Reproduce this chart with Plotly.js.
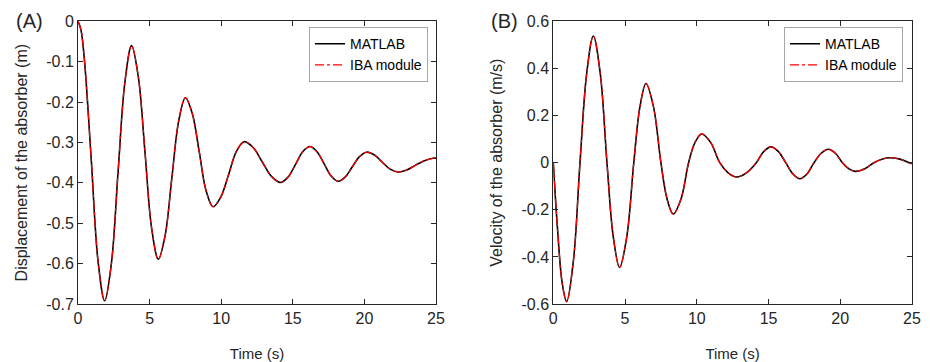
<!DOCTYPE html>
<html>
<head>
<meta charset="utf-8">
<script src="https://cdn.plot.ly/plotly-3.0.1.min.js"></script>
<style>html,body{margin:0;padding:0;background:#fff;}#chart{width:930px;height:362px;}</style>
</head>
<body>
<div id="chart"></div>
<script>
// Displacement of the absorber (panel A)
const dispTime = [0, 0.2, 0.45, 0.93, 1.40, 1.86, 2.33, 2.80, 3.27, 3.74, 4.21, 4.68, 5.14, 5.61, 6.08, 6.55, 7.03, 7.50, 7.98, 8.47, 8.95, 9.43, 9.97, 10.52, 11.06, 11.6, 12.24, 12.88, 13.51, 14.15, 14.66, 15.18, 15.69, 16.2, 16.69, 17.19, 17.68, 18.17, 18.67, 19.16, 19.66, 20.15, 20.70, 21.25, 21.80, 22.35, 22.96, 23.58, 24.19, 24.8, 25];
const dispMatlab = [0, -0.020, -0.096, -0.345, -0.594, -0.692, -0.600, -0.372, -0.152, -0.060, -0.137, -0.325, -0.512, -0.589, -0.531, -0.389, -0.247, -0.189, -0.228, -0.324, -0.420, -0.459, -0.435, -0.379, -0.322, -0.298, -0.313, -0.349, -0.384, -0.399, -0.386, -0.355, -0.323, -0.310, -0.323, -0.353, -0.383, -0.396, -0.385, -0.360, -0.335, -0.324, -0.331, -0.349, -0.366, -0.373, -0.368, -0.356, -0.345, -0.339, -0.339];
const dispIBA = dispMatlab.slice();

// Velocity of the absorber (panel B)
const velTime = [0, 0.31, 0.62, 0.93, 1.40, 1.86, 2.33, 2.79, 3.27, 3.74, 4.18, 4.62, 5.12, 5.61, 6.04, 6.46, 6.98, 7.50, 7.93, 8.36, 8.90, 9.43, 9.88, 10.34, 10.97, 11.6, 12.19, 12.78, 13.46, 14.15, 14.66, 15.17, 15.69, 16.2, 16.70, 17.19, 17.68, 18.17, 18.67, 19.17, 19.66, 20.15, 20.61, 21.07, 21.71, 22.35, 22.90, 23.50, 24.15, 24.8, 25];
const velMatlab = [0, -0.295, -0.511, -0.590, -0.417, 0, 0.380, 0.538, 0.380, 0, -0.315, -0.445, -0.315, 0, 0.238, 0.336, 0.238, 0, -0.154, -0.218, -0.154, 0, 0.086, 0.122, 0.086, 0, -0.043, -0.061, -0.043, 0, 0.047, 0.067, 0.047, 0, -0.048, -0.068, -0.048, 0, 0.040, 0.057, 0.040, 0, -0.026, -0.037, -0.026, 0, 0.015, 0.021, 0.015, 0, -0.003];
const velIBA = velMatlab.slice();

const xTicks = [0, 5, 10, 15, 20, 25];
const dispTickVals = [0, -0.1, -0.2, -0.3, -0.4, -0.5, -0.6, -0.7];
const dispTickText = ["0", "-0.1", "-0.2", "-0.3", "-0.4", "-0.5", "-0.6", "-0.7"];
const velTickVals = [0.6, 0.4, 0.2, 0, -0.2, -0.4, -0.6];
const velTickText = ["0.6", "0.4", "0.2", "0", "-0.2", "-0.4", "-0.6"];
const seriesNames = ["MATLAB", "IBA module"];

const FONT = "Liberation Sans, Arial, sans-serif";
const INK = "#262626";

const traces = [
  {x: dispTime, y: dispMatlab, name: seriesNames[0], mode: "lines", line: {color: "#000000", width: 1.6, shape: "spline"}, xaxis: "x", yaxis: "y", legend: "legend"},
  {x: dispTime, y: dispIBA, name: seriesNames[1], mode: "lines", line: {color: "#ff0000", width: 1.2, dash: "dashdot", shape: "spline"}, xaxis: "x", yaxis: "y", legend: "legend"},
  {x: velTime, y: velMatlab, name: seriesNames[0], mode: "lines", line: {color: "#000000", width: 1.6, shape: "spline"}, xaxis: "x2", yaxis: "y2", legend: "legend2"},
  {x: velTime, y: velIBA, name: seriesNames[1], mode: "lines", line: {color: "#ff0000", width: 1.2, dash: "dashdot", shape: "spline"}, xaxis: "x2", yaxis: "y2", legend: "legend2"}
];

function xAxis(domain, anchor) {
  return {
    domain: domain, anchor: anchor, range: [0, 25], tickvals: xTicks, ticktext: xTicks.map(String),
    ticks: "inside", ticklen: 5, tickcolor: INK, showline: true, linecolor: INK, linewidth: 1, mirror: "ticks",
    showgrid: false, zeroline: false, tickfont: {family: FONT, size: 16, color: INK},
    title: {text: "Time (s)", font: {family: FONT, size: 15, color: INK}, standoff: 22}, automargin: false
  };
}
function yAxis(range, vals, text, title, anchor) {
  return {
    domain: [0.1602, 0.941], anchor: anchor, range: range, tickvals: vals, ticktext: text,
    ticks: "inside", ticklen: 5, tickcolor: INK, showline: true, linecolor: INK, linewidth: 1, mirror: "ticks",
    showgrid: false, zeroline: false, tickfont: {family: FONT, size: 16, color: INK},
    title: {text: title, font: {family: FONT, size: 16, color: INK}, standoff: 14}, automargin: false
  };
}
const legendStyle = (x) => ({
  x: x, xanchor: "right", y: 0.925, yanchor: "top", bgcolor: "#ffffff", bordercolor: "#a6a6a6", borderwidth: 1,
  font: {family: FONT, size: 14, color: "#000000"}, itemwidth: 30, tracegroupgap: 0
});

const layout = {
  width: 930, height: 362, margin: {l: 0, r: 0, t: 0, b: 0}, paper_bgcolor: "#ffffff", plot_bgcolor: "#ffffff",
  showlegend: true,
  xaxis: xAxis([78 / 930, 436 / 930], "y"),
  yaxis: yAxis([-0.7, 0], dispTickVals, dispTickText, "Displacement of the absorber (m)", "x"),
  xaxis2: xAxis([553.3 / 930, 912 / 930], "y2"),
  yaxis2: yAxis([-0.6, 0.6], velTickVals, velTickText, "Velocity of the absorber (m/s)", "x2"),
  legend: legendStyle(428 / 930),
  legend2: legendStyle(903 / 930),
  annotations: [
    {text: "(A)", xref: "paper", yref: "paper", x: 29 / 930, y: 1 - 21 / 362, xanchor: "center", yanchor: "middle", showarrow: false, font: {family: FONT, size: 20, color: INK}},
    {text: "(B)", xref: "paper", yref: "paper", x: 504 / 930, y: 1 - 21 / 362, xanchor: "center", yanchor: "middle", showarrow: false, font: {family: FONT, size: 20, color: INK}}
  ]
};

Plotly.newPlot("chart", traces, layout, {staticPlot: true, displayModeBar: false});
</script>
</body>
</html>
